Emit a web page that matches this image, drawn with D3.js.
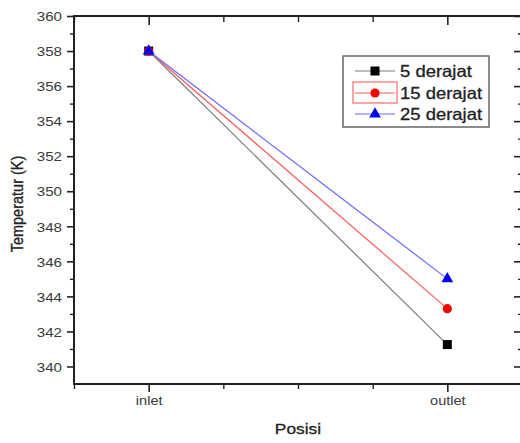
<!DOCTYPE html>
<meta charset="utf-8">
<script src="https://d3js.org/d3.v7.min.js"></script>
<style>
  body { margin: 0; background: #fff; }
  text { font-family: "Liberation Sans", Arial, sans-serif; }
</style>
<body>
<div id="chart"></div>
<script>
// data
const positions = ["inlet", "outlet"];
const seriesNames = ["5 derajat", "15 derajat", "25 derajat"];
const temp5 = [358, 341.25];
const temp15 = [358, 343.3];
const temp25 = [358, 345.0];
const yMajorTicks = [340, 342, 344, 346, 348, 350, 352, 354, 356, 358, 360];
const yMinorTicks = [341, 343, 345, 347, 349, 351, 353, 355, 357, 359];
const xMinorTicks = [0.75, 1.25, 1.5, 1.75, 2.25];

const width = 520, height = 443;
const margin = {top: 16, left: 74, bottom: 384, right: 522};
const stretch = "scale(1.12,1)";

const svg = d3.select("#chart").append("svg")
  .attr("width", width)
  .attr("height", height);

// scales: categories sit at 1 and 2, frame runs 0.75 .. 2.25
const x = d3.scaleLinear().domain([0.75, 2.25]).range([margin.left, margin.right]);
const y = d3.scaleLinear().domain([339, 360]).range([margin.bottom, margin.top]);
const xMajor = positions.map((p, i) => i + 1);

// left axis
svg.append("g")
  .attr("transform", `translate(${margin.left},0)`)
  .call(d3.axisLeft(y).tickValues(yMajorTicks).tickSize(7).tickPadding(0).tickFormat(d3.format("d")))
  .call(g => g.select(".domain").remove())
  .call(g => g.selectAll("line").attr("stroke", "#222").attr("stroke-width", 1.6))
  .call(g => g.selectAll("text")
    .attr("x", -10.7).attr("dy", "0.35em")
    .attr("transform", stretch)
    .attr("fill", "#3a3a3a").style("font-size", "13.5px"));
svg.append("g")
  .attr("transform", `translate(${margin.left},0)`)
  .call(d3.axisLeft(y).tickValues(yMinorTicks).tickSize(4).tickFormat(""))
  .call(g => g.select(".domain").remove())
  .call(g => g.selectAll("line").attr("stroke", "#222").attr("stroke-width", 1.4));

// right axis (ticks point inward)
svg.append("g")
  .attr("transform", `translate(${margin.right},0)`)
  .call(d3.axisLeft(y).tickValues(yMajorTicks).tickSize(8).tickFormat(""))
  .call(g => g.select(".domain").remove())
  .call(g => g.selectAll("line").attr("stroke", "#222").attr("stroke-width", 1.6));
svg.append("g")
  .attr("transform", `translate(${margin.right},0)`)
  .call(d3.axisLeft(y).tickValues(yMinorTicks).tickSize(4).tickFormat(""))
  .call(g => g.select(".domain").remove())
  .call(g => g.selectAll("line").attr("stroke", "#222").attr("stroke-width", 1.4));

// bottom axis
svg.append("g")
  .attr("transform", `translate(0,${margin.bottom})`)
  .call(d3.axisBottom(x).tickValues(xMajor).tickSize(8).tickPadding(4)
    .tickFormat((d, i) => positions[i]))
  .call(g => g.select(".domain").remove())
  .call(g => g.selectAll("line").attr("stroke", "#222").attr("stroke-width", 1.6))
  .call(g => g.selectAll("text")
    .attr("transform", stretch)
    .attr("fill", "#3a3a3a").style("font-size", "13px"));
svg.append("g")
  .attr("transform", `translate(0,${margin.bottom})`)
  .call(d3.axisBottom(x).tickValues(xMinorTicks).tickSize(5).tickFormat(""))
  .call(g => g.select(".domain").remove())
  .call(g => g.selectAll("line").attr("stroke", "#222").attr("stroke-width", 1.4));

// top axis (ticks point inward)
svg.append("g")
  .attr("transform", `translate(0,${margin.top})`)
  .call(d3.axisBottom(x).tickValues(xMajor).tickSize(9).tickFormat(""))
  .call(g => g.select(".domain").remove())
  .call(g => g.selectAll("line").attr("stroke", "#222").attr("stroke-width", 1.6));
svg.append("g")
  .attr("transform", `translate(0,${margin.top})`)
  .call(d3.axisBottom(x).tickValues(xMinorTicks).tickSize(6).tickFormat(""))
  .call(g => g.select(".domain").remove())
  .call(g => g.selectAll("line").attr("stroke", "#222").attr("stroke-width", 1.4));

// frame
svg.append("rect")
  .attr("x", margin.left).attr("y", margin.top)
  .attr("width", margin.right - margin.left)
  .attr("height", margin.bottom - margin.top)
  .attr("fill", "none").attr("stroke", "#222").attr("stroke-width", 2);

// axis titles
svg.append("text")
  .attr("transform", `translate(23,204) rotate(-90) scale(1,1.12)`)
  .attr("text-anchor", "middle")
  .attr("fill", "#222").attr("stroke", "#222").attr("stroke-width", 0.3)
  .style("font-size", "14.5px")
  .text("Temperatur (K)");
svg.append("text")
  .attr("transform", `translate(298,434) ${stretch}`)
  .attr("text-anchor", "middle")
  .attr("fill", "#222").attr("stroke", "#222").attr("stroke-width", 0.3)
  .style("font-size", "15.5px")
  .text("Posisi");

// series
const series = [
  {name: seriesNames[0], values: temp5, line: "#7a7a7a", color: "#000", shape: d3.symbolSquare, size: 81},
  {name: seriesNames[1], values: temp15, line: "#ff5a5a", color: "#f00", shape: d3.symbolCircle, size: 66},
  {name: seriesNames[2], values: temp25, line: "#6a6aff", color: "#00f", shape: d3.symbolTriangle, size: 60}
];

const line = d3.line()
  .x((d, i) => x(i + 1))
  .y(d => y(d));

series.forEach(s => {
  svg.append("path")
    .datum(s.values)
    .attr("d", line)
    .attr("fill", "none")
    .attr("stroke", s.line)
    .attr("stroke-width", 1.2);
  svg.selectAll(null)
    .data(s.values)
    .join("path")
    .attr("transform", (d, i) => `translate(${x(i + 1)},${y(d)})`)
    .attr("d", d3.symbol().type(s.shape).size(s.size))
    .attr("fill", s.color);
});

// legend
const legend = svg.append("g").attr("transform", "translate(343,56)");
legend.append("rect")
  .attr("width", 146).attr("height", 71)
  .attr("fill", "#fff")
  .attr("stroke", "#666").attr("stroke-width", 1.5);

const rowY = [15, 37, 58];
series.forEach((s, i) => {
  const row = legend.append("g").attr("transform", `translate(0,${rowY[i]})`);
  if (i === 1) {
    row.append("rect")
      .attr("x", 10).attr("y", -11)
      .attr("width", 44).attr("height", 21)
      .attr("fill", "none")
      .attr("stroke", "#ff6a6a").attr("stroke-width", 1.2);
  }
  row.append("line")
    .attr("x1", 12).attr("x2", 52)
    .attr("stroke", s.line).attr("stroke-width", 1.2);
  row.append("path")
    .attr("transform", "translate(32,0)")
    .attr("d", d3.symbol().type(s.shape).size(s.size))
    .attr("fill", s.color);
  row.append("text")
    .attr("transform", `translate(57,0) ${stretch}`)
    .attr("dy", "0.35em")
    .attr("fill", "#222").attr("stroke", "#222").attr("stroke-width", 0.3)
    .style("font-size", "16.5px")
    .text(s.name);
});
</script>
</body>
</html>
